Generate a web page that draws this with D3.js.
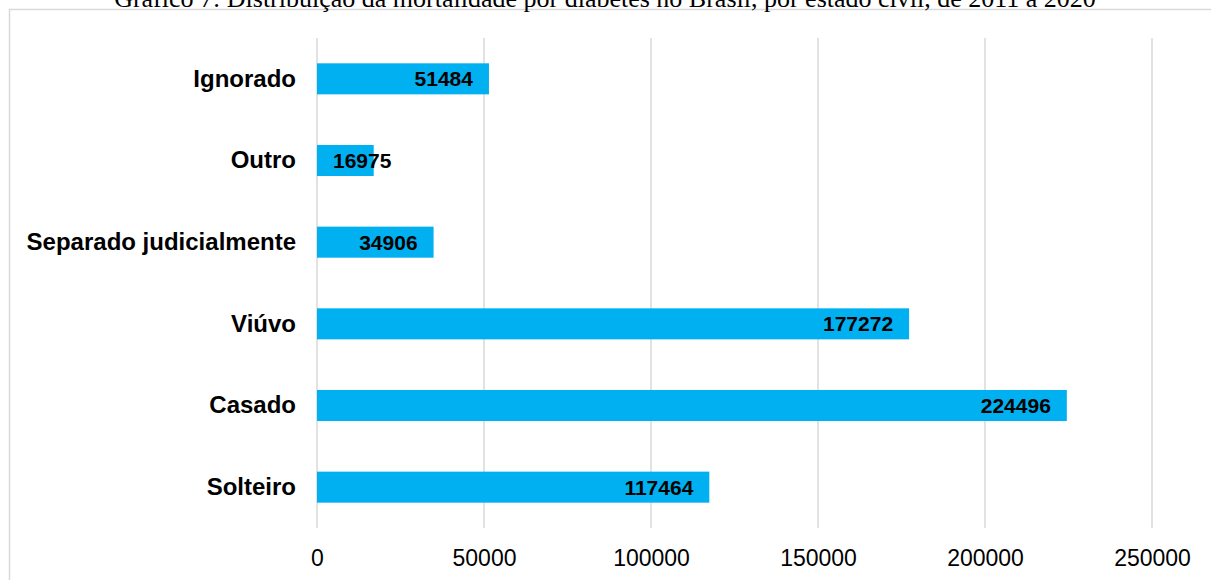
<!DOCTYPE html>
<html>
<head>
  <meta charset="UTF-8">
  <title>Gráfico 7</title>
  <style>
    body { margin: 0; background: #fff; }
    svg { display: block; }
  </style>
</head>
<body>
  <svg width="1211" height="580"></svg>

  <script src="https://d3js.org/d3.v7.min.js"></script>
  <script>
    // Data
    const categories = ['Solteiro', 'Casado', 'Viúvo', 'Separado judicialmente', 'Outro', 'Ignorado'];
    const deaths = [117464, 224496, 177272, 34906, 16975, 51484];
    const xTicks = [0, 50000, 100000, 150000, 200000, 250000];
    const title = 'Gráfico 7: Distribuição da mortalidade por diabetes no Brasil, por estado civil, de 2011 a 2020';

    const data = categories.map((c, i) => ({ cat: c, value: deaths[i] }));

    const svg = d3.select('svg');

    // plot area
    const plotLeft = 317, plotRight = 1152, plotTop = 38, plotBottom = 528;

    // Outer chart frame (only the top and left edges fall inside the window)
    svg.append('rect')
      .attr('x', 9.5)
      .attr('y', 9.5)
      .attr('width', 1240)
      .attr('height', 600)
      .attr('fill', 'none')
      .attr('stroke', '#d9d9d9')
      .attr('stroke-width', 1.5);

    // Title (its top is cut off, as in the source)
    svg.append('text')
      .attr('x', 605)
      .attr('y', 7)
      .attr('text-anchor', 'middle')
      .attr('font-family', '"Liberation Serif", "Times New Roman", serif')
      .attr('font-size', '26px')
      .attr('fill', '#000')
      .text(title);

    const x = d3.scaleLinear().domain([0, 250000]).range([plotLeft, plotRight]);
    // reversed so Ignorado sits at the top
    const y = d3.scaleBand()
      .domain(categories.slice().reverse())
      .range([plotTop, plotBottom])
      .paddingInner(0.62)
      .paddingOuter(0.31);

    // Gridlines
    svg.append('g')
      .selectAll('line')
      .data(xTicks)
      .join('line')
      .attr('x1', d => x(d))
      .attr('x2', d => x(d))
      .attr('y1', plotTop)
      .attr('y2', plotBottom)
      .attr('stroke', '#d9d9d9')
      .attr('stroke-width', 1.5);

    // X axis labels
    const xAxis = svg.append('g')
      .attr('transform', `translate(0, ${plotBottom})`)
      .call(d3.axisBottom(x).tickValues(xTicks).tickFormat(d3.format('d')).tickSize(0).tickPadding(22));
    xAxis.select('.domain').remove();
    xAxis.selectAll('text')
      .attr('font-family', '"Liberation Sans", Arial, sans-serif')
      .attr('font-size', '23px')
      .attr('fill', '#000');

    // Y axis labels
    const yAxis = svg.append('g')
      .attr('transform', `translate(${plotLeft}, 0)`)
      .call(d3.axisLeft(y).tickSize(0).tickPadding(21));
    yAxis.select('.domain').remove();
    yAxis.selectAll('text')
      .attr('font-family', '"Liberation Sans", Arial, sans-serif')
      .attr('font-size', '24px')
      .attr('font-weight', 'bold')
      .attr('fill', '#000');

    // Bars
    svg.append('g')
      .selectAll('rect')
      .data(data)
      .join('rect')
      .attr('x', x(0))
      .attr('y', d => y(d.cat))
      .attr('width', d => x(d.value) - x(0))
      .attr('height', y.bandwidth())
      .attr('fill', '#00b0f0');

    // Value labels, inside end (pushed to the bar start when the bar is too short)
    svg.append('g')
      .selectAll('text')
      .data(data)
      .join('text')
      .attr('y', d => y(d.cat) + y.bandwidth() / 2)
      .attr('dy', '0.35em')
      .attr('font-family', '"Liberation Sans", Arial, sans-serif')
      .attr('font-size', '21px')
      .attr('font-weight', 'bold')
      .attr('fill', '#000')
      .text(d => d.value)
      .each(function(d) {
        const w = this.getComputedTextLength();
        const barW = x(d.value) - x(0);
        let tx = x(d.value) - 16 - w;
        if (barW < w + 32) tx = x(0) + 16;
        d3.select(this).attr('x', tx);
      });
  </script>
</body>
</html>
